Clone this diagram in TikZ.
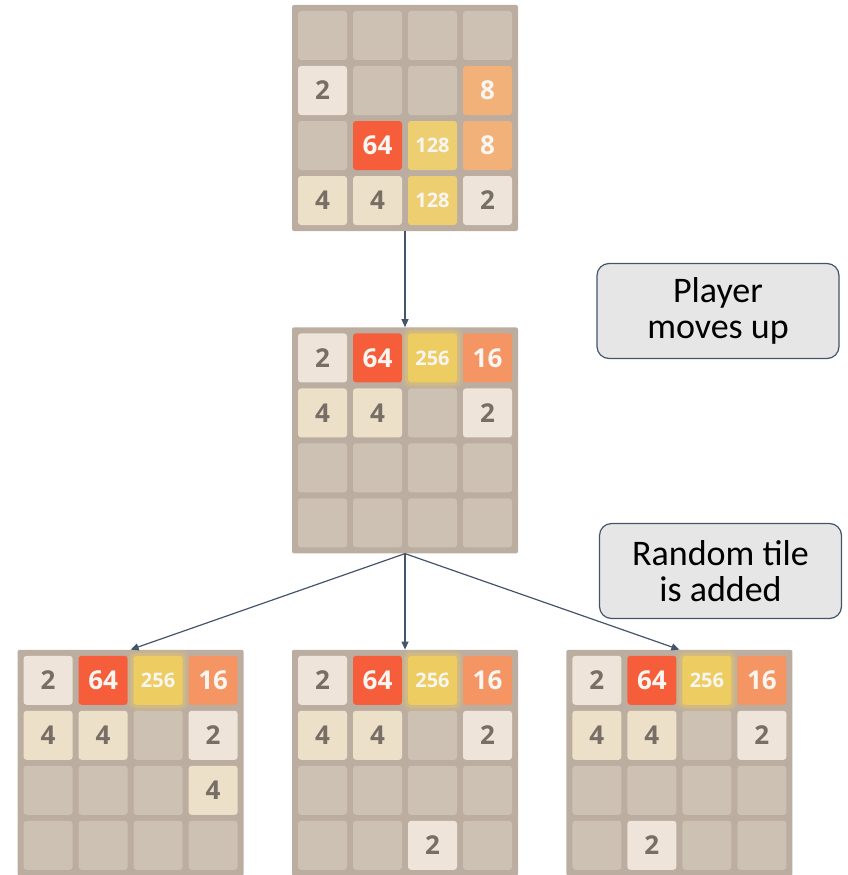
\documentclass[tikz,border=0pt]{standalone}
\usepackage{fontspec}
\setmainfont{Carlito}
\newfontfamily\tilefont{Open Sans}
\usetikzlibrary{
    arrows.meta,
    positioning
}
\definecolor{boardbg}{HTML}{BBADA0}
\definecolor{cellempty}{HTML}{CDC1B4}
\definecolor{cell2}{HTML}{EEE4DA}
\definecolor{cell4}{HTML}{EDE0C8}
\definecolor{cell8}{HTML}{F2B179}
\definecolor{cell16}{HTML}{F59563}
\definecolor{cell64}{HTML}{F65E3B}
\definecolor{cell128}{HTML}{EDCF72}
\definecolor{cell256}{HTML}{EDCC61}
\definecolor{darknum}{HTML}{776E65}
\definecolor{lightnum}{HTML}{F9F6F2}
\definecolor{slate}{HTML}{44546A}
\definecolor{notefill}{HTML}{E7E6E6}
\tikzset{
    line cap=round,
    line join=round,
    board/.style={
        rectangle,
        fill=boardbg,
        rounded corners=2pt,
        minimum size=226pt,
        inner sep=0pt
    },
    cell/.style={
        rectangle,
        rounded corners=3pt,
        minimum size=49pt,
        inner sep=0pt,
        text=darknum,
        font=\tilefont\bfseries\fontsize{26}{26}\selectfont
    },
    smallnum/.style={
        font=\tilefont\bfseries\fontsize{20}{20}\selectfont
    },
    v0/.style={fill=cellempty},
    v2/.style={fill=cell2},
    v4/.style={fill=cell4},
    v8/.style={fill=cell8, text=lightnum},
    v16/.style={fill=cell16, text=lightnum},
    v64/.style={fill=cell64, text=lightnum},
    v128/.style={fill=cell128, text=lightnum, smallnum},
    v256/.style={
        fill=cell256, text=lightnum, smallnum,
        preaction={draw=cell256, draw opacity=0.18, line width=12pt},
        preaction={draw=cell256, draw opacity=0.3, line width=6pt}
    },
    move/.style={
        -{Triangle[length=8pt, width=7pt]},
        draw=slate,
        line width=1.2pt
    },
    note/.style={
        rectangle,
        draw=slate,
        line width=1.2pt,
        rounded corners=12pt,
        fill=notefill,
        minimum width=242pt,
        minimum height=95pt,
        align=center,
        font=\fontsize{36}{36}\selectfont
    }
}
% tiles of one board, row by row
\newcommand{\fillboard}[2]{%
    \foreach \v [count=\i from 0] in {#2}{
        \pgfmathsetmacro\cx{-82.5+55*mod(\i,4)}
        \pgfmathsetmacro\cy{82.5-55*int(\i/4)}
        \node[cell, v\v] (#1-\i) at ([xshift=\cx pt, yshift=\cy pt]#1.center) {\ifnum\v>0 \v\fi};
    }%
}

\begin{document}
\begin{tikzpicture}[x=1pt, y=1pt, node distance=96pt]
\useasboundingbox (0,0) rectangle (848,-875);

% Boards
\node[board] (top) at (405,-118) {};
\node[board, below=of top] (mid) {};
\node[board, below=of mid] (b2) {};
\node[board, left=48pt of b2] (b1) {};
\node[board, right=48pt of b2] (b3) {};

\fillboard{top}{0,0,0,0, 2,0,0,8, 0,64,128,8, 4,4,128,2}
\fillboard{mid}{2,64,256,16, 4,4,0,2, 0,0,0,0, 0,0,0,0}
\fillboard{b1}{2,64,256,16, 4,4,0,2, 0,0,0,4, 0,0,0,0}
\fillboard{b2}{2,64,256,16, 4,4,0,2, 0,0,0,0, 0,0,2,0}
\fillboard{b3}{2,64,256,16, 4,4,0,2, 0,0,0,0, 0,2,0,0}

% Notes
\node[note] (player) at (718,-311) {Player\\moves up};
\node[note] (random) at (720.5,-571) {Random tile\\is added};

% Moves
\draw[move] (top.south) -- (mid.north);
\draw[move] (mid.south) -- (b1.north);
\draw[move] (mid.south) -- (b2.north);
\draw[move] (mid.south) -- (b3.north);

\end{tikzpicture}
\end{document}
